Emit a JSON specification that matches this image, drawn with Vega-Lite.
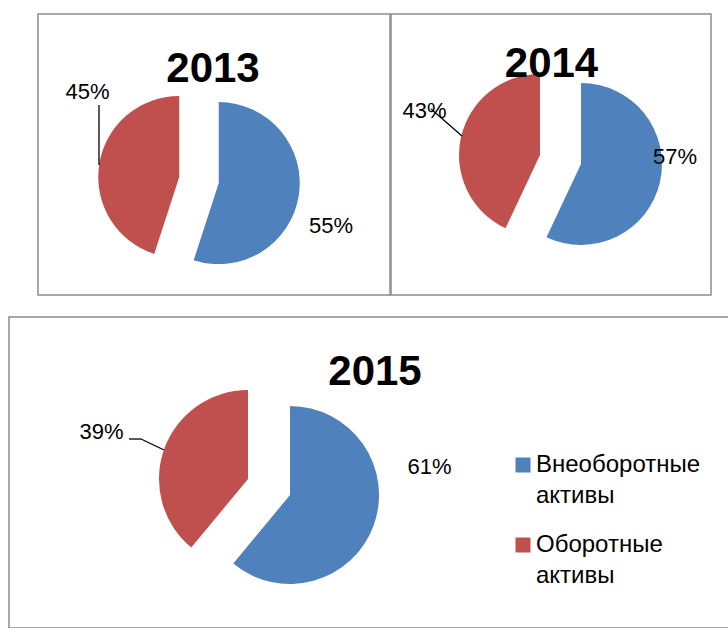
{
  "$schema": "https://vega.github.io/schema/vega-lite/v6.json",
  "padding": {"left": 8, "top": 13, "right": 0, "bottom": 0},
  "background": "white",
  "config": {
    "view": {"stroke": "#8c8c8c", "strokeWidth": 1.5},
    "text": {"font": "Liberation Sans", "color": "#000000"},
    "legend": {"labelFont": "Liberation Sans"},
    "style": {"guide-label": {"lineHeight": 31}}
  },
  "datasets": {
    "shares": [
      {"year": 2013, "cat": "Внеоборотные активы", "value": 0.55},
      {"year": 2013, "cat": "Оборотные активы", "value": 0.45},
      {"year": 2014, "cat": "Внеоборотные активы", "value": 0.57},
      {"year": 2014, "cat": "Оборотные активы", "value": 0.43},
      {"year": 2015, "cat": "Внеоборотные активы", "value": 0.61},
      {"year": 2015, "cat": "Оборотные активы", "value": 0.39}
    ]
  },
  "resolve": {"scale": {"color": "independent", "theta": "independent"}, "legend": {"color": "independent"}},
  "spacing": 20,
  "vconcat": [
    {
      "spacing": -3,
      "resolve": {"scale": {"color": "independent", "theta": "independent"}, "legend": {"color": "independent"}},
      "hconcat": [
        {
          "width": 29, "height": 10,
          "view": {"stroke": null},
          "data": {"values": []},
          "mark": "text",
          "encoding": {}
        },
        {
          "width": 352, "height": 281,
          "data": {"name": "shares"},
          "transform": [
            {"filter": "datum.year == 2013"},
            {"stack": "value", "groupby": [], "sort": [{"field": "cat", "order": "ascending"}], "as": ["t0", "t1"]}
          ],
          "layer": [
            {
              "transform": [{"filter": "datum.cat != 'Оборотные активы'"}],
              "mark": {"type": "arc", "outerRadius": 81, "xOffset": 4.75, "yOffset": 28.6},
              "encoding": {
                "theta": {"field": "t0", "type": "quantitative", "scale": {"domain": [0, 1]}},
                "theta2": {"field": "t1"},
                "color": {"field": "cat", "type": "nominal", "scale": {"domain": ["Внеоборотные активы", "Оборотные активы"], "range": ["#4F81BD", "#C0504D"]}, "legend": null}
              }
            },
            {
              "transform": [{"filter": "datum.cat == 'Оборотные активы'"}],
              "mark": {"type": "arc", "outerRadius": 81, "xOffset": -34.75, "yOffset": 22.4},
              "encoding": {
                "theta": {"field": "t0", "type": "quantitative", "scale": {"domain": [0, 1]}},
                "theta2": {"field": "t1"},
                "color": {"field": "cat", "type": "nominal", "scale": {"domain": ["Внеоборотные активы", "Оборотные активы"], "range": ["#4F81BD", "#C0504D"]}, "legend": null}
              }
            },
            {
              "transform": [{"filter": "datum.cat != 'Оборотные активы'"}],
              "mark": {"type": "text", "fontSize": 22, "align": "center", "baseline": "alphabetic", "xOffset": 117, "yOffset": 78.5},
              "encoding": {"text": {"field": "value", "type": "quantitative", "format": ".0%"}}
            },
            {
              "transform": [{"filter": "datum.cat == 'Оборотные активы'"}],
              "mark": {"type": "text", "fontSize": 22, "align": "center", "baseline": "alphabetic", "xOffset": -126.5, "yOffset": -55.5},
              "encoding": {"text": {"field": "value", "type": "quantitative", "format": ".0%"}}
            },
            {
              "transform": [{"filter": "datum.cat == 'Оборотные активы'"}],
              "mark": {"type": "text", "fontSize": 42, "fontWeight": "bold", "align": "center", "baseline": "alphabetic", "xOffset": -1, "yOffset": -72.5},
              "encoding": {"text": {"field": "year", "type": "nominal"}}
            },
            {
              "transform": [{"filter": "datum.cat == 'Оборотные активы'"}],
              "mark": {"type": "rule", "color": "#000000", "strokeWidth": 1.3},
              "encoding": {"x": {"value": 61}, "y": {"value": 91}, "y2": {"value": 151}}
            }
          ]
        },
        {
          "width": 320, "height": 281,
          "data": {"name": "shares"},
          "transform": [
            {"filter": "datum.year == 2014"},
            {"stack": "value", "groupby": [], "sort": [{"field": "cat", "order": "ascending"}], "as": ["t0", "t1"]}
          ],
          "layer": [
            {
              "transform": [{"filter": "datum.cat != 'Оборотные активы'"}],
              "mark": {"type": "arc", "outerRadius": 81, "xOffset": 30, "yOffset": 9.5},
              "encoding": {
                "theta": {"field": "t0", "type": "quantitative", "scale": {"domain": [0, 1]}},
                "theta2": {"field": "t1"},
                "color": {"field": "cat", "type": "nominal", "scale": {"domain": ["Внеоборотные активы", "Оборотные активы"], "range": ["#4F81BD", "#C0504D"]}, "legend": null}
              }
            },
            {
              "transform": [{"filter": "datum.cat == 'Оборотные активы'"}],
              "mark": {"type": "arc", "outerRadius": 81, "xOffset": -11, "yOffset": 0.5},
              "encoding": {
                "theta": {"field": "t0", "type": "quantitative", "scale": {"domain": [0, 1]}},
                "theta2": {"field": "t1"},
                "color": {"field": "cat", "type": "nominal", "scale": {"domain": ["Внеоборотные активы", "Оборотные активы"], "range": ["#4F81BD", "#C0504D"]}, "legend": null}
              }
            },
            {
              "transform": [{"filter": "datum.cat != 'Оборотные активы'"}],
              "mark": {"type": "text", "fontSize": 22, "align": "center", "baseline": "alphabetic", "xOffset": 124, "yOffset": 9.5},
              "encoding": {"text": {"field": "value", "type": "quantitative", "format": ".0%"}}
            },
            {
              "transform": [{"filter": "datum.cat == 'Оборотные активы'"}],
              "mark": {"type": "text", "fontSize": 22, "align": "center", "baseline": "alphabetic", "xOffset": -126.5, "yOffset": -36.5},
              "encoding": {"text": {"field": "value", "type": "quantitative", "format": ".0%"}}
            },
            {
              "transform": [{"filter": "datum.cat == 'Оборотные активы'"}],
              "mark": {"type": "text", "fontSize": 42, "fontWeight": "bold", "align": "center", "baseline": "alphabetic", "xOffset": 0.5, "yOffset": -77.5},
              "encoding": {"text": {"field": "year", "type": "nominal"}}
            },
            {
              "transform": [{"filter": "datum.cat == 'Оборотные активы'"}],
              "mark": {"type": "rule", "color": "#000000", "strokeWidth": 1.3},
              "encoding": {"x": {"value": 40}, "x2": {"value": 71}, "y": {"value": 95}, "y2": {"value": 122}}
            }
          ]
        }
      ]
    },
    {
      "width": 720, "height": 311,
      "data": {"name": "shares"},
      "transform": [
        {"filter": "datum.year == 2015"},
        {"stack": "value", "groupby": [], "sort": [{"field": "cat", "order": "ascending"}], "as": ["t0", "t1"]}
      ],
      "layer": [
        {
          "transform": [{"filter": "datum.cat != 'Оборотные активы'"}],
          "mark": {"type": "arc", "outerRadius": 89, "xOffset": -79, "yOffset": 22.5},
          "encoding": {
            "theta": {"field": "t0", "type": "quantitative", "scale": {"domain": [0, 1]}},
            "theta2": {"field": "t1"},
            "color": {
              "field": "cat", "type": "nominal",
              "scale": {"domain": ["Внеоборотные активы", "Оборотные активы"], "range": ["#4F81BD", "#C0504D"]},
              "legend": {
                "orient": "none", "legendX": 502, "legendY": 136, "title": null, "padding": 0,
                "symbolType": "square", "symbolSize": 225, "symbolStrokeWidth": 0,
                "labelFontSize": 24, "labelColor": "#000000", "labelLimit": 0, "labelOffset": 1,
                "labelExpr": "split(datum.label, ' ')", "rowPadding": 25
              }
            }
          }
        },
        {
          "transform": [{"filter": "datum.cat == 'Оборотные активы'"}],
          "mark": {"type": "arc", "outerRadius": 89, "xOffset": -121, "yOffset": 6.5},
          "encoding": {
            "theta": {"field": "t0", "type": "quantitative", "scale": {"domain": [0, 1]}},
            "theta2": {"field": "t1"},
            "color": {"field": "cat", "type": "nominal", "scale": {"domain": ["Внеоборотные активы", "Оборотные активы"], "range": ["#4F81BD", "#C0504D"]}}
          }
        },
        {
          "transform": [{"filter": "datum.cat != 'Оборотные активы'"}],
          "mark": {"type": "text", "fontSize": 22, "align": "center", "baseline": "alphabetic", "xOffset": 60.5, "yOffset": 1.5},
          "encoding": {"text": {"field": "value", "type": "quantitative", "format": ".0%"}}
        },
        {
          "transform": [{"filter": "datum.cat == 'Оборотные активы'"}],
          "mark": {"type": "text", "fontSize": 22, "align": "center", "baseline": "alphabetic", "xOffset": -267.5, "yOffset": -33.5},
          "encoding": {"text": {"field": "value", "type": "quantitative", "format": ".0%"}}
        },
        {
          "transform": [{"filter": "datum.cat == 'Оборотные активы'"}],
          "mark": {"type": "text", "fontSize": 42, "fontWeight": "bold", "align": "center", "baseline": "alphabetic", "xOffset": 6, "yOffset": -87.5},
          "encoding": {"text": {"field": "year", "type": "nominal"}}
        },
        {
          "transform": [{"filter": "datum.cat == 'Оборотные активы'"}],
          "mark": {"type": "rule", "color": "#000000", "strokeWidth": 1.3},
          "encoding": {"x": {"value": 120}, "x2": {"value": 132}, "y": {"value": 122}, "y2": {"value": 122}}
        },
        {
          "transform": [{"filter": "datum.cat == 'Оборотные активы'"}],
          "mark": {"type": "rule", "color": "#000000", "strokeWidth": 1.3},
          "encoding": {"x": {"value": 132}, "x2": {"value": 155}, "y": {"value": 122}, "y2": {"value": 133}}
        }
      ]
    }
  ]
}
